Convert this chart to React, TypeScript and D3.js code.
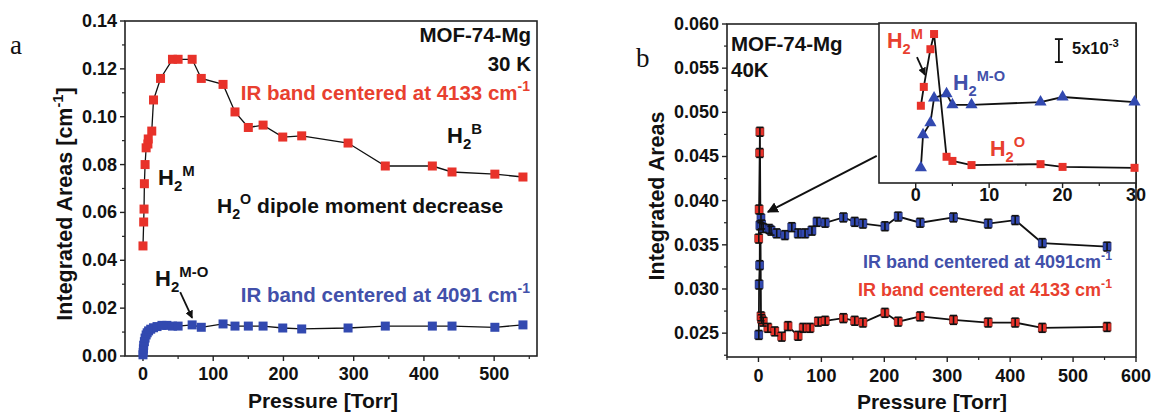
import React from 'react';
import * as d3 from 'd3';

// ---------- Panel a data (MOF-74-Mg, 30 K) ----------
const aRedP = [0, 1, 1.5, 2, 3, 4.5, 7, 7.5, 12.5, 15, 25, 42, 50, 70, 83, 114, 131, 150, 171, 199, 226, 292, 345, 412, 440, 501, 541];
const aRedV = [0.046, 0.056, 0.0614, 0.072, 0.080, 0.087, 0.0886, 0.0907, 0.094, 0.107, 0.116, 0.124, 0.124, 0.124, 0.116, 0.1135, 0.102, 0.0955, 0.0965, 0.0915, 0.092, 0.089, 0.0794, 0.0794, 0.0769, 0.076, 0.0748];
const aBlueP = [0, 0.3, 0.6, 1, 2, 3, 4.5, 6, 8, 11, 15, 20, 27, 34, 42, 50, 70, 83, 114, 131, 150, 171, 199, 226, 292, 345, 412, 440, 501, 541];
const aBlueV = [0.0005, 0.0015, 0.003, 0.0045, 0.006, 0.0075, 0.0088, 0.0097, 0.0105, 0.0112, 0.0118, 0.0123, 0.0128, 0.0128, 0.0125, 0.0125, 0.013, 0.012, 0.0134, 0.0125, 0.0125, 0.0125, 0.0117, 0.0113, 0.0117, 0.0125, 0.0125, 0.0125, 0.012, 0.013];
const aYTicks = [0, 0.02, 0.04, 0.06, 0.08, 0.1, 0.12, 0.14];
const aYMinor = [0.01, 0.03, 0.05, 0.07, 0.09, 0.11, 0.13];
const aXTicks = [0, 100, 200, 300, 400, 500];
const aXMinor = [50, 150, 250, 350, 450, 550];

// ---------- Panel b data (MOF-74-Mg, 40 K) ----------
const bBlueP = [0.5, 1, 2, 2.3, 4, 5, 7.5, 17, 20, 29, 42, 53, 63, 74, 85, 93, 106, 135, 153, 166, 201, 222, 257, 310, 365, 408, 451, 554];
const bBlueV = [0.0248, 0.0305, 0.0327, 0.0372, 0.0380, 0.0373, 0.0369, 0.0368, 0.0366, 0.0363, 0.0361, 0.0370, 0.0363, 0.0363, 0.0366, 0.0376, 0.0375, 0.0381, 0.0376, 0.0374, 0.0371, 0.0382, 0.0375, 0.0381, 0.0374, 0.0378, 0.0352, 0.0348];
const bRedP = [0.5, 1, 2, 2.3, 4, 5, 7.5, 15, 26, 37, 47, 63, 71, 82, 95, 106, 135, 153, 166, 201, 222, 257, 310, 365, 408, 451, 554];
const bRedV = [0.0357, 0.0390, 0.0454, 0.0478, 0.0269, 0.0266, 0.0263, 0.0256, 0.0252, 0.0246, 0.0258, 0.0247, 0.0256, 0.0256, 0.0263, 0.0264, 0.0267, 0.0264, 0.0262, 0.0273, 0.0263, 0.0269, 0.0265, 0.0262, 0.0262, 0.0256, 0.0257];
const bErr = 0.0005;
const bYTicks = [0.025, 0.03, 0.035, 0.04, 0.045, 0.05, 0.055, 0.06];
const bYMinor = [0.0225, 0.0275, 0.0325, 0.0375, 0.0425, 0.0475, 0.0525, 0.0575];
const bXTicks = [0, 100, 200, 300, 400, 500, 600];
const bXMinor = [-50, 50, 150, 250, 350, 450, 550];

// ---------- Inset data (0-30 Torr) ----------
const iRedP = [0.7, 1.1, 2.0, 2.5, 4.2, 5.0, 7.6, 17, 20, 29.8];
const iRedV = [0.0368, 0.0409, 0.0491, 0.0524, 0.0257, 0.0248, 0.0239, 0.0241, 0.0235, 0.0233];
const iBlueP = [0.7, 1.0, 2.0, 2.5, 4.2, 5.0, 7.6, 17, 20, 29.8];
const iBlueV = [0.0233, 0.0305, 0.0331, 0.0385, 0.0394, 0.0370, 0.0370, 0.0376, 0.0387, 0.0376];
const iXTicks = [0, 10, 20, 30];
const iXMinor = [5, 15, 25];
const iScaleBar = { p: 19.5, v: 0.0463, size: 0.005 };

const RED = '#e8322a';
const BLUE = '#3249b0';
const REDTXT = '#e8402f';
const BLUETXT = '#4250aa';
const FONT = '"Liberation Sans", Arial, sans-serif';

type Part = { t: string; s?: 'sup' | 'sub' };
function Rich({ x, y, parts, size, fill = '#111', anchor = 'start', transform }: any) {
  let off = 0;
  const spans = (parts as Part[]).map((p, i) => {
    const target = p.s === 'sup' ? -0.42 * size : p.s === 'sub' ? 0.28 * size : 0;
    const dy = target - off;
    off = target;
    const fs = p.s ? size * 0.68 : size;
    return (
      <tspan key={i} dy={dy} fontSize={fs}>
        {p.t}
      </tspan>
    );
  });
  return (
    <text x={x} y={y} fontFamily={FONT} fontWeight="bold" fontSize={size} fill={fill} textAnchor={anchor} transform={transform}>
      {spans}
    </text>
  );
}

export default function App() {
  // scales
  const xA = d3.scaleLinear().domain([-25.6, 561]).range([125, 537]);
  const yA = d3.scaleLinear().domain([0, 0.14]).range([356, 21]);
  const xB = d3.scaleLinear().domain([-50, 600]).range([727, 1136]);
  const yB = d3.scaleLinear().domain([0.0223, 0.06]).range([357, 24]);
  const xI = d3.scaleLinear().domain([-5, 30]).range([879, 1136]);
  const yI = d3.scaleLinear().domain([0.02, 0.0548]).range([183, 23]);

  const fa2 = d3.format('.2f');
  const fb3 = d3.format('.3f');

  const lineA = d3.line<[number, number]>().x((d) => xA(d[0])).y((d) => yA(d[1]));
  const lineB = d3.line<[number, number]>().x((d) => xB(d[0])).y((d) => yB(d[1]));
  const lineI = d3.line<[number, number]>().x((d) => xI(d[0])).y((d) => yI(d[1]));

  const aRed = aRedP.map((p, i) => [p, aRedV[i]] as [number, number]);
  const aBlue = aBlueP.map((p, i) => [p, aBlueV[i]] as [number, number]);
  const bRed = bRedP.map((p, i) => [p, bRedV[i]] as [number, number]);
  const bBlue = bBlueP.map((p, i) => [p, bBlueV[i]] as [number, number]);
  const iRed = iRedP.map((p, i) => [p, iRedV[i]] as [number, number]);
  const iBlue = iBlueP.map((p, i) => [p, iBlueV[i]] as [number, number]);

  const tickFont = { fontFamily: FONT, fontWeight: 'bold' as const, fontSize: 18, fill: '#111' };

  const sq = 9;
  const sqB = 8;

  const tri = d3.symbol().type(d3.symbolTriangle).size(64)();

  const errBars = (data: [number, number][], key: string) =>
    data.map((d, i) => {
      const cx = xB(d[0]);
      const top = yB(d[1] + bErr);
      const bot = yB(d[1] - bErr);
      return (
        <g key={key + i} stroke="#111" strokeWidth={1.6}>
          <line x1={cx} x2={cx} y1={top} y2={bot} />
          <line x1={cx - 3.5} x2={cx + 3.5} y1={top} y2={top} />
          <line x1={cx - 3.5} x2={cx + 3.5} y1={bot} y2={bot} />
        </g>
      );
    });

  return (
    <svg width={1151} height={412} style={{ position: 'absolute', left: 0, top: 0, background: '#fff' }}>
      <defs>
        <marker id="ah" viewBox="0 0 10 10" refX="9" refY="5" markerWidth="8" markerHeight="8" orient="auto-start-reverse" markerUnits="userSpaceOnUse">
          <path d="M0,0 L10,5 L0,10 z" fill="#111" />
        </marker>
        <marker id="ah2" viewBox="0 0 10 10" refX="9" refY="5" markerWidth="11" markerHeight="11" orient="auto-start-reverse" markerUnits="userSpaceOnUse">
          <path d="M0,0 L10,5 L0,10 z" fill="#111" />
        </marker>
      </defs>

      {/* ================= Panel a ================= */}
      <text x={10} y={54} fontFamily='"Liberation Serif", "Times New Roman", serif' fontSize={27} fill="#111">a</text>
      <rect x={125} y={21} width={412} height={335} fill="none" stroke="#222" strokeWidth={1.6} />
      {aYTicks.map((t) => (
        <g key={'ay' + t}>
          <line x1={125} x2={120} y1={yA(t)} y2={yA(t)} stroke="#222" strokeWidth={1.4} />
          <text x={117} y={yA(t) + 6} textAnchor="end" {...tickFont}>{fa2(t)}</text>
        </g>
      ))}
      {aYMinor.map((t) => (
        <line key={'aym' + t} x1={125} x2={122} y1={yA(t)} y2={yA(t)} stroke="#222" strokeWidth={1.2} />
      ))}
      {aXTicks.map((t) => (
        <g key={'ax' + t}>
          <line x1={xA(t)} x2={xA(t)} y1={356} y2={361} stroke="#222" strokeWidth={1.4} />
          <text x={xA(t)} y={380} textAnchor="middle" {...tickFont}>{t}</text>
        </g>
      ))}
      {aXMinor.map((t) => (
        <line key={'axm' + t} x1={xA(t)} x2={xA(t)} y1={356} y2={359} stroke="#222" strokeWidth={1.2} />
      ))}
      <text x={323} y={408} textAnchor="middle" fontFamily={FONT} fontWeight="bold" fontSize={21} fill="#111">Pressure [Torr]</text>
      <Rich x={0} y={0} size={21.5} anchor="middle" transform="translate(72,204) rotate(-90)"
        parts={[{ t: 'Integrated Areas [cm' }, { t: '-1', s: 'sup' }, { t: ']' }]} />

      <path d={lineA(aRed) || ''} fill="none" stroke="#111" strokeWidth={1.3} />
      <path d={lineA(aBlue) || ''} fill="none" stroke="#111" strokeWidth={1.3} />
      {aRed.map((d, i) => (
        <rect key={'ar' + i} x={xA(d[0]) - sq / 2} y={yA(d[1]) - sq / 2} width={sq} height={sq} fill={RED} />
      ))}
      {aBlue.map((d, i) => (
        <rect key={'ab' + i} x={xA(d[0]) - sq / 2} y={yA(d[1]) - sq / 2} width={sq} height={sq} fill={BLUE} />
      ))}

      <text x={531} y={42} textAnchor="end" fontFamily={FONT} fontWeight="bold" fontSize={20.5} fill="#111">MOF-74-Mg</text>
      <text x={531} y={71} textAnchor="end" fontFamily={FONT} fontWeight="bold" fontSize={20.5} fill="#111">30 K</text>
      <Rich x={530} y={100} size={20.5} anchor="end" fill={REDTXT} parts={[{ t: 'IR band centered at 4133 cm' }, { t: '-1', s: 'sup' }]} />
      <Rich x={447} y={143} size={22} parts={[{ t: 'H' }, { t: '2', s: 'sub' }, { t: 'B', s: 'sup' }]} />
      <Rich x={158} y={185} size={22} parts={[{ t: 'H' }, { t: '2', s: 'sub' }, { t: 'M', s: 'sup' }]} />
      <Rich x={217} y={213} size={21} parts={[{ t: 'H' }, { t: '2', s: 'sub' }, { t: 'O', s: 'sup' }, { t: ' dipole moment decrease' }]} />
      <Rich x={155} y={286} size={22} parts={[{ t: 'H' }, { t: '2', s: 'sub' }, { t: 'M-O', s: 'sup' }]} />
      <line x1={xA(53)} y1={yA(0.0267)} x2={xA(70)} y2={yA(0.0159)} stroke="#111" strokeWidth={1.8} markerEnd="url(#ah)" />
      <Rich x={530} y={302} size={20.5} anchor="end" fill={BLUETXT} parts={[{ t: 'IR band centered at 4091 cm' }, { t: '-1', s: 'sup' }]} />

      {/* ================= Panel b ================= */}
      <text x={636} y={67} fontFamily='"Liberation Serif", "Times New Roman", serif' fontSize={27} fill="#111">b</text>
      <rect x={727} y={24} width={409} height={333} fill="none" stroke="#222" strokeWidth={1.6} />
      {bYTicks.map((t) => (
        <g key={'by' + t}>
          <line x1={727} x2={722} y1={yB(t)} y2={yB(t)} stroke="#222" strokeWidth={1.4} />
          <text x={719} y={yB(t) + 6} textAnchor="end" {...tickFont}>{fb3(t)}</text>
        </g>
      ))}
      {bYMinor.map((t) => (
        <line key={'bym' + t} x1={727} x2={724} y1={yB(t)} y2={yB(t)} stroke="#222" strokeWidth={1.2} />
      ))}
      {bXTicks.map((t) => (
        <g key={'bx' + t}>
          <line x1={xB(t)} x2={xB(t)} y1={357} y2={362} stroke="#222" strokeWidth={1.4} />
          <text x={xB(t)} y={382} textAnchor="middle" {...tickFont}>{t}</text>
        </g>
      ))}
      {bXMinor.map((t) => (
        <line key={'bxm' + t} x1={xB(t)} x2={xB(t)} y1={357} y2={360} stroke="#222" strokeWidth={1.2} />
      ))}
      <text x={932} y={409} textAnchor="middle" fontFamily={FONT} fontWeight="bold" fontSize={21} fill="#111">Pressure [Torr]</text>
      <text x={0} y={0} textAnchor="middle" fontFamily={FONT} fontWeight="bold" fontSize={21.5} fill="#111" transform="translate(664,196) rotate(-90)">Integrated Areas</text>

      <path d={lineB(bBlue) || ''} fill="none" stroke="#111" strokeWidth={1.8} />
      <path d={lineB(bRed) || ''} fill="none" stroke="#111" strokeWidth={1.8} />
      {bBlue.map((d, i) => (
        <rect key={'bb' + i} x={xB(d[0]) - sqB / 2} y={yB(d[1]) - sqB / 2} width={sqB} height={sqB} fill={BLUE} stroke="#1a2360" strokeWidth={0.6} />
      ))}
      {bRed.map((d, i) => (
        <rect key={'br' + i} x={xB(d[0]) - sqB / 2} y={yB(d[1]) - sqB / 2} width={sqB} height={sqB} fill={RED} stroke="#6a1510" strokeWidth={0.6} />
      ))}
      {errBars(bBlue, 'eb')}
      {errBars(bRed, 'er')}

      <text x={731} y={51} fontFamily={FONT} fontWeight="bold" fontSize={20.5} fill="#111">MOF-74-Mg</text>
      <text x={731} y={77} fontFamily={FONT} fontWeight="bold" fontSize={20.5} fill="#111">40K</text>
      <Rich x={1112} y={268} size={18} anchor="end" fill={BLUETXT} parts={[{ t: 'IR band centered at 4091cm' }, { t: '-1', s: 'sup' }]} />
      <Rich x={1112} y={296} size={18} anchor="end" fill={REDTXT} parts={[{ t: 'IR band centered at 4133 cm' }, { t: '-1', s: 'sup' }]} />
      <line x1={xB(188)} y1={yB(0.04507)} x2={xB(15)} y2={yB(0.03873)} stroke="#111" strokeWidth={2} markerEnd="url(#ah2)" />

      {/* ================= Inset ================= */}
      <rect x={879} y={23} width={257} height={160} fill="#fff" stroke="#222" strokeWidth={1.6} />
      {iXTicks.map((t) => (
        <g key={'ix' + t}>
          <line x1={xI(t)} x2={xI(t)} y1={183} y2={188} stroke="#222" strokeWidth={1.4} />
          <text x={xI(t)} y={201} textAnchor="middle" {...tickFont}>{t}</text>
        </g>
      ))}
      {iXMinor.map((t) => (
        <line key={'ixm' + t} x1={xI(t)} x2={xI(t)} y1={183} y2={186} stroke="#222" strokeWidth={1.2} />
      ))}
      <path d={lineI(iBlue) || ''} fill="none" stroke="#111" strokeWidth={1.8} />
      <path d={lineI(iRed) || ''} fill="none" stroke="#111" strokeWidth={1.8} />
      {iBlue.map((d, i) => (
        <path key={'ib' + i} d={tri || ''} transform={`translate(${xI(d[0])},${yI(d[1])})`} fill={BLUE} />
      ))}
      {iRed.map((d, i) => (
        <rect key={'ir' + i} x={xI(d[0]) - sqB / 2} y={yI(d[1]) - sqB / 2} width={sqB} height={sqB} fill={RED} />
      ))}
      <g stroke="#111" strokeWidth={1.8}>
        <line x1={xI(iScaleBar.p)} x2={xI(iScaleBar.p)} y1={yI(iScaleBar.v)} y2={yI(iScaleBar.v + iScaleBar.size)} />
        <line x1={xI(iScaleBar.p) - 4} x2={xI(iScaleBar.p) + 4} y1={yI(iScaleBar.v)} y2={yI(iScaleBar.v)} />
        <line x1={xI(iScaleBar.p) - 4} x2={xI(iScaleBar.p) + 4} y1={yI(iScaleBar.v + iScaleBar.size)} y2={yI(iScaleBar.v + iScaleBar.size)} />
      </g>
      <Rich x={1072} y={54} size={16.5} parts={[{ t: '5x10' }, { t: '-3', s: 'sup' }]} />
      <Rich x={887} y={48} size={21.5} fill={REDTXT} parts={[{ t: 'H' }, { t: '2', s: 'sub' }, { t: 'M', s: 'sup' }]} />
      <line x1={xI(0.17)} y1={yI(0.0474)} x2={xI(1.26)} y2={yI(0.0435)} stroke="#111" strokeWidth={1.8} markerEnd="url(#ah)" />
      <Rich x={953} y={90} size={21.5} fill={BLUETXT} parts={[{ t: 'H' }, { t: '2', s: 'sub' }, { t: 'M-O', s: 'sup' }]} />
      <Rich x={990} y={156} size={21.5} fill={REDTXT} parts={[{ t: 'H' }, { t: '2', s: 'sub' }, { t: 'O', s: 'sup' }]} />
    </svg>
  );
}
